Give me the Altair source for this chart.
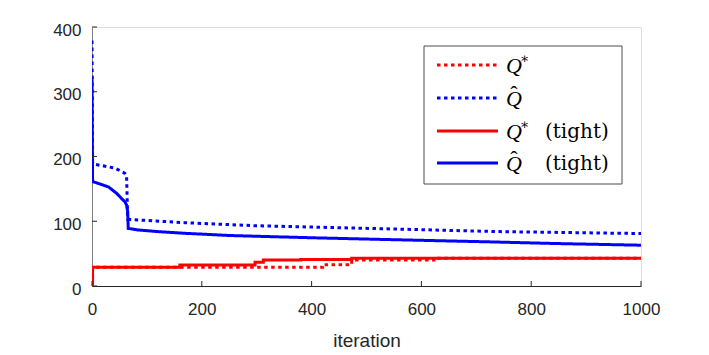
import altair as alt
import pandas as pd

# ---- data ----
qstar_x = [0, 1, 420, 473, 628, 1000]
qstar_y = [3, 29, 33, 40, 42.7, 42.7]

qhat_x = [0, 1, 2, 5, 42, 60, 63, 65, 84, 169, 300, 525, 743, 1000]
qhat_y = [379, 192, 189.5, 188, 182, 174, 170, 103, 102, 97.8, 93, 88.5, 84, 81]

qstar_t_x = [0, 1, 160, 297, 312, 380, 473, 1000]
qstar_t_y = [3, 29, 32.5, 36.5, 40, 41, 42.7, 42.7]

qhat_t_x = [0, 1, 2, 11, 30, 45, 54, 60, 63, 65, 66, 84, 120, 169, 250, 400, 525, 707, 850, 1000]
qhat_t_y = [323, 165, 161, 158.6, 153, 143, 135, 130, 125, 115, 89, 86.5, 84, 81.4, 78, 74.5, 72, 68.5, 65.5, 63]

series_names = ["Q* (dotted)", "Q^ (dotted)", "Q* tight", "Q^ tight"]
series_colors = ["#ff0000", "#0000ff", "#ff0000", "#0000ff"]
series_dash = [[3.5, 3.5], [3.5, 3.5], [1, 0], [1, 0]]

x_ticks = [0, 200, 400, 600, 800, 1000]
y_ticks = [0, 100, 200, 300, 400]

W, H = 549, 259
FONT = "Liberation Sans"
SERIF = "Liberation Serif"
SERIF2 = "DejaVu Serif"
AX = "#262626"

def frame(xs, ys, name, order):
    return pd.DataFrame({"iteration": xs, "value": ys, "series": name, "order": order})

xscale = alt.Scale(domain=[0, 1000], nice=False)
yscale = alt.Scale(domain=[0, 400], nice=False)

def line(xs, ys, idx, interp):
    df = frame(xs, ys, series_names[idx], idx)
    return alt.Chart(df).mark_line(
        color=series_colors[idx], strokeWidth=3, strokeDash=series_dash[idx],
        interpolate=interp, clip=True
    ).encode(
        x=alt.X("iteration:Q", scale=xscale,
                axis=alt.Axis(values=x_ticks, format="d", ticks=False, grid=False,
                              labelFont=FONT, labelFlush=False,
                              labelFontSize=17, labelColor=AX, labelPadding=15,
                              domainColor=AX, domainWidth=1, title="iteration",
                              titleFont=FONT, titleFontSize=19, titleFontWeight="normal",
                              titleColor=AX, titlePadding=14)),
        y=alt.Y("value:Q", scale=yscale,
                axis=alt.Axis(values=y_ticks, format="d", ticks=False, grid=False,
                              labelFont=FONT, labelFlush=False, labelOffset=3,
                              labelFontSize=17, labelColor=AX, labelPadding=11,
                              domainColor="#808080", domainWidth=1, title=None)),
        order="iteration:Q",
    )

lines = [
    line(qstar_x, qstar_y, 0, "step-after"),
    line(qhat_x, qhat_y, 1, "linear"),
    line(qstar_t_x, qstar_t_y, 2, "step-after"),
    line(qhat_t_x, qhat_t_y, 3, "linear"),
]

# inward ticks
xt = alt.Chart(pd.DataFrame({"t": x_ticks})).mark_rule(color=AX, strokeWidth=1).encode(
    x=alt.X("t:Q", scale=xscale), y=alt.value(H), y2=alt.value(H - 5))
yt = alt.Chart(pd.DataFrame({"t": y_ticks})).mark_rule(color=AX, strokeWidth=1).encode(
    y=alt.Y("t:Q", scale=yscale), x=alt.value(0), x2=alt.value(5))

# manual legend
one = alt.Data(values=[{"a": 1}])
box = alt.Chart(one).mark_rect(fill="white", stroke="#4d4d4d", strokeWidth=1).encode(
    x=alt.value(332), x2=alt.value(530), y=alt.value(19), y2=alt.value(157))

rows = [38, 71, 104, 136]
legend_layers = [box]
for i, ry in enumerate(rows):
    legend_layers.append(
        alt.Chart(one).mark_rule(color=series_colors[i], strokeWidth=3,
                                 strokeDash=series_dash[i]).encode(
            x=alt.value(345), x2=alt.value(406), y=alt.value(ry)))
    legend_layers.append(
        alt.Chart(one).mark_text(text="Q", font=SERIF, fontStyle="italic", fontSize=22,
                                 align="left", baseline="middle", color="black").encode(
            x=alt.value(414), y=alt.value(ry + 1)))
    if i in (0, 2):
        legend_layers.append(
            alt.Chart(one).mark_text(text="∗", font=SERIF2, fontSize=14, align="left",
                                     baseline="middle", color="black").encode(
                x=alt.value(428), y=alt.value(ry - 6)))
    else:
        legend_layers.append(
            alt.Chart(one).mark_text(text="ˆ", font=SERIF, fontSize=22, align="center",
                                     baseline="alphabetic", color="black").encode(
                x=alt.value(422), y=alt.value(ry + 3)))
    if i >= 2:
        legend_layers.append(
            alt.Chart(one).mark_text(text="(tight)", font=SERIF2, fontSize=20, align="left",
                                     baseline="middle", color="black").encode(
                x=alt.value(453), y=alt.value(ry + 1)))

chart = alt.layer(*lines, xt, yt, *legend_layers).properties(
    width=W, height=H,
    autosize=alt.AutoSizeParams(type="none"),
    padding={"left": 92, "top": 27, "right": 68, "bottom": 69},
).configure_view(stroke=None).configure(background="white")

chart.save("out.html", embed_options={"renderer": "svg", "actions": False})
